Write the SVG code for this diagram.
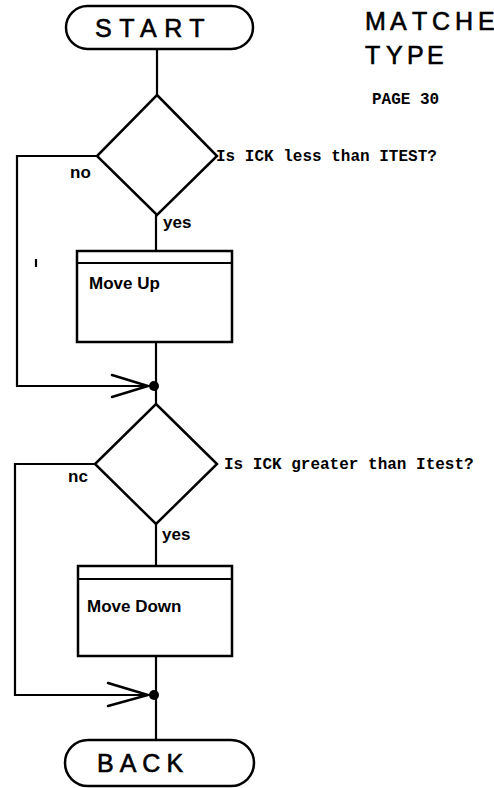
<svg xmlns="http://www.w3.org/2000/svg" width="494" height="788" viewBox="0 0 494 788">
<style>
.shape{fill:#fff;stroke:#000;stroke-width:2.5}
.line{fill:none;stroke:#000;stroke-width:2.2}
.arrow{fill:none;stroke:#000;stroke-width:2.5;stroke-linecap:round}
.big{font-family:"Liberation Sans",Arial,sans-serif;font-size:25px;fill:#000;stroke:#000;stroke-width:0.6}
.q{font-family:"Liberation Mono","Courier New",monospace;font-size:16px;font-weight:bold;fill:#000}
.lbl{font-family:"Liberation Sans",Arial,sans-serif;font-size:17px;font-weight:bold;fill:#000}
</style>
<rect width="494" height="788" fill="#fff"/>
<g id="connectors">
<line class="line" x1="157" y1="49" x2="157" y2="95"/>
<line class="line" x1="156" y1="215" x2="156" y2="251"/>
<line class="line" x1="156" y1="342" x2="156" y2="404"/>
<polyline class="line" points="97,156 17,156 17,386 150,386"/>
<polyline class="arrow" points="112,375 148,386 112,397"/>
<circle cx="154" cy="386" r="5"/>
<line class="line" x1="156" y1="524" x2="156" y2="566"/>
<line class="line" x1="156" y1="656" x2="156" y2="740"/>
<polyline class="line" points="95,464 15,464 15,695 150,695"/>
<polyline class="arrow" points="108,683 148,695 108,706"/>
<circle cx="154" cy="695" r="5"/>
<line class="line" x1="36" y1="259" x2="36" y2="267" stroke-width="1.5"/>
</g>
<g id="start">
<rect class="shape" x="66" y="6" width="187" height="43" rx="21.5"/>
<text class="big" x="95" y="37" letter-spacing="7.5">START</text>
</g>
<g id="title">
<text class="big" x="365 390 412 432 455 478" y="30" font-size="22">MATCHE</text>
<text class="big" x="365 386 407 427" y="64" font-size="23">TYPE</text>
<text class="q" x="372" y="104" font-size="14">PAGE 30</text>
</g>
<g id="decision1">
<polygon class="shape" points="157,95 217,156 157,215 97,156"/>
<text class="q" x="216" y="161">Is ICK less than ITEST?</text>
<text class="lbl" x="70" y="178">no</text>
<text class="lbl" x="163" y="228">yes</text>
</g>
<g id="moveup">
<rect class="shape" x="77" y="251" width="155" height="91"/>
<line class="line" x1="77" y1="263" x2="232" y2="263"/>
<text class="lbl" x="89" y="289">Move Up</text>
</g>
<g id="decision2">
<polygon class="shape" points="156,404 217,464 156,524 95,464"/>
<text class="q" x="224" y="469">Is ICK greater than Itest?</text>
<text class="lbl" x="68" y="482">nc</text>
<text class="lbl" x="162" y="540">yes</text>
</g>
<g id="movedown">
<rect class="shape" x="78" y="566" width="154" height="90"/>
<line class="line" x1="78" y1="579" x2="232" y2="579"/>
<text class="lbl" x="87" y="612">Move Down</text>
</g>
<g id="back">
<rect class="shape" x="65" y="740" width="189" height="46" rx="23"/>
<text class="big" x="97" y="772" letter-spacing="6">BACK</text>
</g>
</svg>
